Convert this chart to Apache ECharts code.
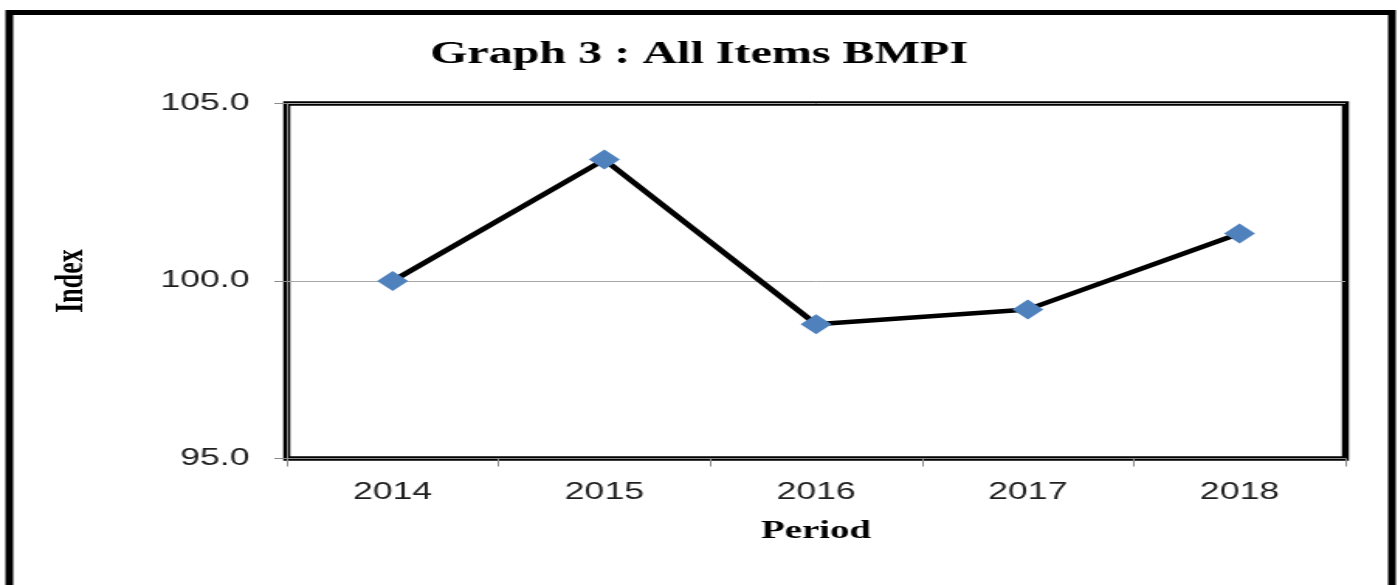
<!DOCTYPE html>
<html>
<head>
<meta charset="utf-8">
<script src="https://cdn.jsdelivr.net/npm/echarts@6/dist/echarts.min.js"></script>
<style>
  html, body { margin: 0; padding: 0; background: #fff; overflow: hidden; }
  /* the original picture is a horizontally stretched chart, so stretch it the same way */
  #container { width: 902px; height: 585px; transform: scaleX(1.55); transform-origin: 0 0; }
</style>
</head>
<body>
<div id="container"></div>
<script>
var periods = ['2014', '2015', '2016', '2017', '2018'];
var bmpi = [100.0, 103.42, 98.78, 99.20, 101.34];
var yTicks = [95, 100, 105];

var dom = document.getElementById("container");
var myChart = echarts.init(dom);
var option = {
    animation: false,
    backgroundColor: '#fff',
    title: {
        text: 'Graph 3 : All Items BMPI',
        left: 'center',
        top: 34,
        textStyle: {
            fontFamily: 'Liberation Serif',
            fontWeight: 'bold',
            fontSize: 31,
            color: '#000'
        }
    },
    // outer frame of the picture
    graphic: [{
        type: 'rect',
        silent: true,
        shape: { x: 6, y: 12.5, width: 892, height: 700 },
        style: { fill: 'none', stroke: '#000', lineWidth: 5 }
    }],
    grid: {
        left: 185,
        right: 34,
        top: 103.5,
        bottom: 126.5,
        show: true,
        borderColor: '#000',
        borderWidth: 4.5
    },
    xAxis: {
        type: 'category',
        data: periods,
        boundaryGap: true,
        name: 'Period',
        nameLocation: 'middle',
        nameGap: 61,
        nameTextStyle: {
            fontFamily: 'Liberation Serif',
            fontWeight: 'bold',
            fontSize: 25,
            color: '#000'
        },
        axisLine: { lineStyle: { color: '#8c8c8c', width: 1 } },
        axisTick: { show: true, length: 8, lineStyle: { color: '#8c8c8c' } },
        axisLabel: {
            margin: 23,
            fontFamily: 'Liberation Sans',
            fontSize: 23,
            color: '#1f1f1f'
        },
        splitLine: { show: false }
    },
    yAxis: {
        type: 'value',
        min: yTicks[0],
        max: yTicks[yTicks.length - 1],
        interval: 5,
        name: 'Index',
        nameLocation: 'middle',
        nameGap: 126,
        nameTextStyle: {
            fontFamily: 'Liberation Serif',
            fontWeight: 'bold',
            fontSize: 26,
            color: '#000'
        },
        axisLine: { show: true, lineStyle: { color: '#8c8c8c', width: 1 } },
        axisTick: { show: true, length: 8, lineStyle: { color: '#8c8c8c' } },
        axisLabel: {
            margin: 24,
            fontFamily: 'Liberation Sans',
            fontSize: 23,
            color: '#1f1f1f',
            formatter: function (v) { return v.toFixed(1); }
        },
        splitLine: { show: true, lineStyle: { color: '#a6a6a6', width: 1 } }
    },
    series: [{
        name: 'All Items BMPI',
        type: 'line',
        data: bmpi,
        symbol: 'diamond',
        symbolSize: 20,
        lineStyle: { color: '#000', width: 4.5 },
        itemStyle: { color: '#4F81BD' },
        z: 5
    }]
};
myChart.setOption(option);
</script>
</body>
</html>
